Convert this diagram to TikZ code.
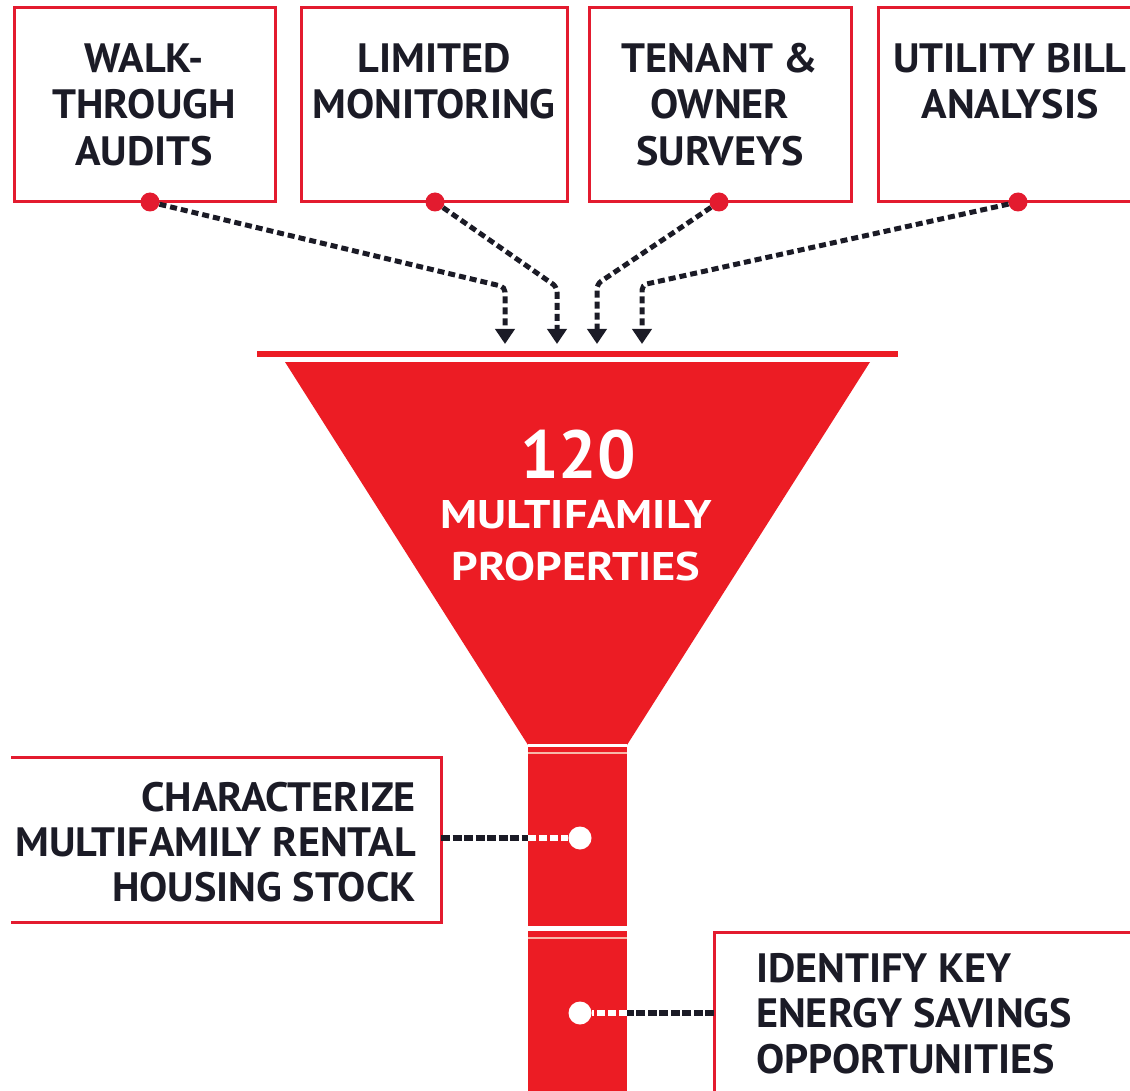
\documentclass[tikz,border=0pt]{standalone}
\usepackage{fontspec}
\setmainfont{PT Sans}[FakeStretch=1.03]
\newfontfamily\widesans{PT Sans}[FakeStretch=1.16]
\newfontfamily\plainsans{PT Sans}
\usetikzlibrary{arrows.meta}
\definecolor{brandred}{HTML}{EC1C24}
\definecolor{boxred}{HTML}{E31B2F}
\definecolor{ink}{HTML}{1B1B26}
\definecolor{palered}{HTML}{F7B7A8}

\begin{document}
\begin{tikzpicture}[x=1pt,y=-1pt,
  frame/.style={draw=boxred,line width=3pt,inner sep=0pt},
  caption/.style={font=\bfseries\fontsize{41}{46.5}\selectfont,text=ink,inner sep=0pt,anchor=north,align=center},
  pin/.style={circle,fill=boxred,minimum size=19pt,inner sep=0pt},
  hollow/.style={circle,fill=white,minimum size=23pt,inner sep=0pt},
  feed/.style={draw=ink,line width=5pt,dash pattern=on 7pt off 4pt,rounded corners=5pt,
    -{Triangle[width=19pt,length=15pt]}},
  darktie/.style={draw=ink,line width=5.5pt,dash pattern=on 9pt off 2.5pt},
  lighttie/.style={draw=white,line width=5.5pt,dash pattern=on 8pt off 3pt}
]
\useasboundingbox (0,0) rectangle (1130,1091);

% source boxes along the top
\node[frame,minimum width=261pt,minimum height=194pt] (b1) at (144.5,105) {};
\node[frame,minimum width=266pt,minimum height=194pt] (b2) at (434,105) {};
\node[frame,minimum width=262pt,minimum height=194pt] (b3) at (720,105) {};
\node[frame,minimum width=262pt,minimum height=194pt] (b4) at (1009,105) {};

\node[caption] (l1) at (144,43) {WALK-\\THROUGH\\AUDITS};
\node[caption] (l2) at (434,43) {LIMITED\\MONITORING};
\node[caption] (l3) at (720,43) {TENANT \&\\OWNER\\SURVEYS};
\node[caption] (l4) at (1010,43) {UTILITY BILL\\ANALYSIS};

% red pins on the box edges
\node[pin] (d1) at (150,202) {};
\node[pin] (d2) at (435,202) {};
\node[pin] (d3) at (719,202) {};
\node[pin] (d4) at (1018,202) {};

% bends and arrow tips above the funnel
\coordinate (c1) at (505,287);  \coordinate (t1) at (505,344);
\coordinate (c2) at (557,287);  \coordinate (t2) at (557,344);
\coordinate (c3) at (597,284);  \coordinate (t3) at (597,344);
\coordinate (c4) at (642,285);  \coordinate (t4) at (642,344);

\draw[feed] (d1) -- (c1) -- (t1);
\draw[feed] (d2) -- (c2) -- (t2);
\draw[feed] (d3) -- (c3) -- (t3);
\draw[feed] (d4) -- (c4) -- (t4);

% funnel
\draw[brandred,line width=5pt] (257,354) -- (898,354);
\fill[brandred] (285,362) -- (870,362) -- (627,745) -- (528,745) -- cycle;
\fill[brandred] (528,745) rectangle (627,926);
\fill[brandred] (528,931) rectangle (627,1091);
\draw[white,line width=2.5pt] (528,745.5) -- (627,745.5);
\draw[palered,line width=1.2pt] (528,753) -- (627,753);
\draw[palered,line width=1.2pt] (528,938) -- (627,938);

\node[font=\plainsans\bfseries\fontsize{68}{70}\selectfont,text=white,inner sep=0pt,anchor=north] (count) at (578,430) {120};
\node[font=\widesans\bfseries\fontsize{40}{52}\selectfont,text=white,inner sep=0pt,anchor=north,align=center] (what) at (576,500) {MULTIFAMILY\\PROPERTIES};

% outcome boxes
\draw[draw=boxred,line width=3pt] (11,757) -- (441,757) -- (441,922) -- (11,922);
\node[caption,anchor=north east,align=right,font=\bfseries\fontsize{41}{45}\selectfont] (l5) at (416,782)
  {CHARACTERIZE\\MULTIFAMILY RENTAL\\HOUSING STOCK};
\draw[draw=boxred,line width=3pt] (1135,932) -- (714,932) -- (714,1095);
\node[caption,anchor=north west,align=left,font=\bfseries\fontsize{41}{45.5}\selectfont] (l6) at (756,953)
  {IDENTIFY KEY\\ENERGY SAVINGS\\OPPORTUNITIES};

% ties from the funnel stem to the outcome boxes
\coordinate (b5) at (441,838);
\coordinate (n5) at (528,838);
\node[hollow] (w5) at (580,838) {};
\coordinate (b6) at (714,1013);
\coordinate (n6) at (627,1013);
\node[hollow] (w6) at (580,1013) {};

\draw[darktie] (b5) -- (n5);
\draw[lighttie] (n5) -- (w5);
\draw[darktie] (b6) -- (n6);
\draw[lighttie] (n6) -- (w6);
\end{tikzpicture}
\end{document}
